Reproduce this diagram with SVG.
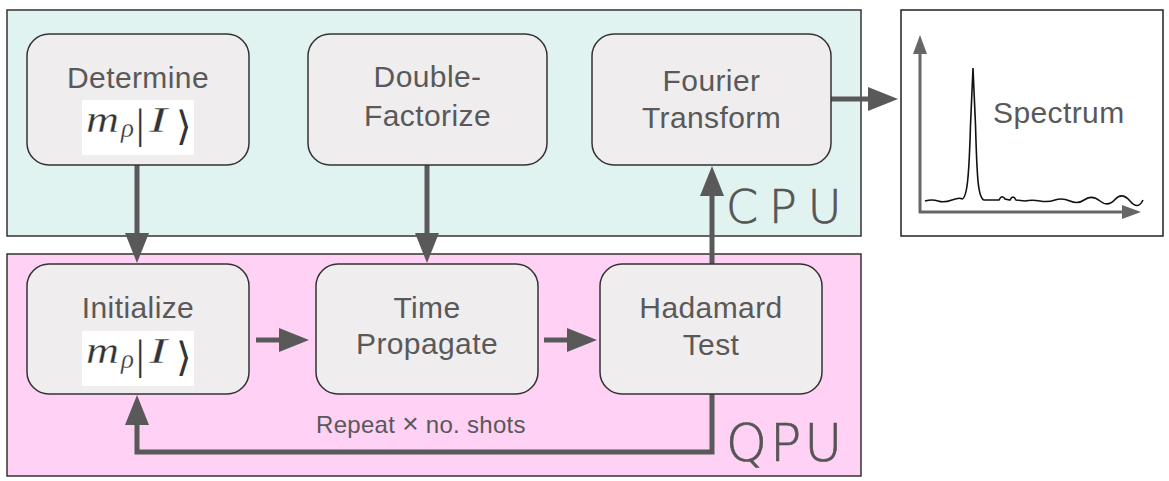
<svg xmlns="http://www.w3.org/2000/svg" width="1169" height="481" viewBox="0 0 1169 481">
<style>
  .region { stroke: #333333; stroke-width: 1.5; }
  .node rect.box { fill: #efedee; stroke: #333333; stroke-width: 1.5; }
  .lbl { font-family: "Liberation Sans", Arial, sans-serif; font-size: 30px; fill: #595959; text-anchor: middle; letter-spacing: 0.4px; }
  .note { font-family: "Liberation Sans", Arial, sans-serif; font-size: 24px; fill: #595959; letter-spacing: 0.3px; }
  .hand { font-family: "DejaVu Sans ExtraLight", "DejaVu Sans", sans-serif; font-weight: 200; fill: #555555; stroke: #555555; stroke-width: 0.7; }
  .mbox { fill: #ffffff; }
  .mi { font-family: "Liberation Serif", "DejaVu Serif", serif; font-style: italic; fill: #333333; stroke: #ffffff; stroke-width: 0.3; }
  .mu { font-family: "Liberation Serif", "DejaVu Serif", serif; fill: #333333; }
  .ang { font-family: "DejaVu Serif", "Liberation Serif", serif; fill: #333333; }
  .conn { fill: none; stroke: #595959; stroke-width: 5; marker-end: url(#ah); }
  .axis { fill: none; stroke: #666666; stroke-width: 3; marker-end: url(#ax); }
</style>
<defs>
  <marker id="ah" markerUnits="userSpaceOnUse" viewBox="0 0 30 24" markerWidth="30" markerHeight="24" refX="2" refY="12" orient="auto">
    <path d="M0,0 L30,12 L0,24 Z" fill="#595959"/>
  </marker>
  <marker id="ax" markerUnits="userSpaceOnUse" viewBox="0 0 19 14" markerWidth="19" markerHeight="14" refX="1" refY="7" orient="auto">
    <path d="M0,0 L19,7 L0,14 Z" fill="#666666"/>
  </marker>
</defs>

<g id="cpu-region">
  <rect class="region" x="7" y="10" width="854" height="226" fill="#e1f3f1"/>
  <text class="hand" x="726" y="223" font-size="46" letter-spacing="11">CPU</text>
</g>
<g id="qpu-region">
  <rect class="region" x="7" y="254" width="854" height="222" fill="#fed1f5"/>
  <text class="hand" x="726" y="461" font-size="52" letter-spacing="3">QPU</text>
</g>

<g id="connectors">
  <line class="conn" x1="137" y1="165" x2="137" y2="235"/>
  <line class="conn" x1="427" y1="165" x2="427" y2="235"/>
  <line class="conn" x1="712" y1="264" x2="712" y2="194"/>
  <line class="conn" x1="831" y1="99" x2="870" y2="99"/>
  <line class="conn" x1="256" y1="340" x2="281" y2="340"/>
  <line class="conn" x1="544" y1="340" x2="569" y2="340"/>
  <path class="conn" d="M712,394 V452 H137 V423"/>
  <text class="note" x="316" y="433">Repeat <tspan font-size="28">×</tspan> no. shots</text>
</g>

<g id="node-determine" class="node">
  <rect class="box" x="27" y="34" width="222" height="131" rx="22"/>
  <text class="lbl" x="138" y="88">Determine</text>
  <rect class="mbox" x="82" y="100" width="112" height="55"/>
  <text class="mi" x="86" y="132" font-size="37" textLength="33" lengthAdjust="spacingAndGlyphs">m</text>
  <text class="mi" x="121" y="137" font-size="27">ρ</text>
  <text class="mu" x="136" y="138" font-size="42">|</text>
  <text class="mi" x="149" y="132" font-size="36" textLength="18" lengthAdjust="spacingAndGlyphs">I</text>
  <text class="ang" x="176" y="140" font-size="40">⟩</text>
</g>

<g id="node-double-factorize" class="node">
  <rect class="box" x="308" y="34" width="239" height="131" rx="22"/>
  <text class="lbl" x="427.5" y="87">Double-</text>
  <text class="lbl" x="427.5" y="126">Factorize</text>
</g>

<g id="node-fourier" class="node">
  <rect class="box" x="592" y="34" width="239" height="131" rx="22"/>
  <text class="lbl" x="711.5" y="91">Fourier</text>
  <text class="lbl" x="711.5" y="128">Transform</text>
</g>

<g id="node-initialize" class="node">
  <rect class="box" x="27" y="264" width="222" height="130" rx="22"/>
  <text class="lbl" x="138" y="318">Initialize</text>
  <rect class="mbox" x="82" y="331" width="112" height="55"/>
  <text class="mi" x="86" y="363" font-size="37" textLength="33" lengthAdjust="spacingAndGlyphs">m</text>
  <text class="mi" x="121" y="368" font-size="27">ρ</text>
  <text class="mu" x="136" y="369" font-size="42">|</text>
  <text class="mi" x="149" y="363" font-size="36" textLength="18" lengthAdjust="spacingAndGlyphs">I</text>
  <text class="ang" x="176" y="371" font-size="40">⟩</text>
</g>

<g id="node-time-propagate" class="node">
  <rect class="box" x="316" y="264" width="222" height="130" rx="22"/>
  <text class="lbl" x="427" y="318">Time</text>
  <text class="lbl" x="427" y="354">Propagate</text>
</g>

<g id="node-hadamard" class="node">
  <rect class="box" x="600" y="264" width="222" height="130" rx="22"/>
  <text class="lbl" x="711" y="318">Hadamard</text>
  <text class="lbl" x="711" y="355">Test</text>
</g>

<g id="node-spectrum">
  <rect x="901" y="10" width="262" height="226" fill="#ffffff" stroke="#222222" stroke-width="1.5"/>
  <line class="axis" x1="920" y1="213" x2="920" y2="53"/>
  <line class="axis" x1="919" y1="212" x2="1123" y2="212"/>
  <path d="M925,201 Q932,199 938,201 T952,200 T962,199 C967,198 969,178 970.5,125 L973,68 L975.5,125 C977,178 978,198 984,200 L999,200 Q1002,194 1005,199 L1010,200 Q1013,194 1016,200 L1025,201 Q1032,199.5 1040,201 T1055,200 T1070,201 T1085,199.5 T1100,201 T1115,199.5 T1130,201 T1143,200" fill="none" stroke="#111111" stroke-width="1.6"/>
  <text class="lbl" x="993" y="123" style="text-anchor:start">Spectrum</text>
</g>
</svg>
